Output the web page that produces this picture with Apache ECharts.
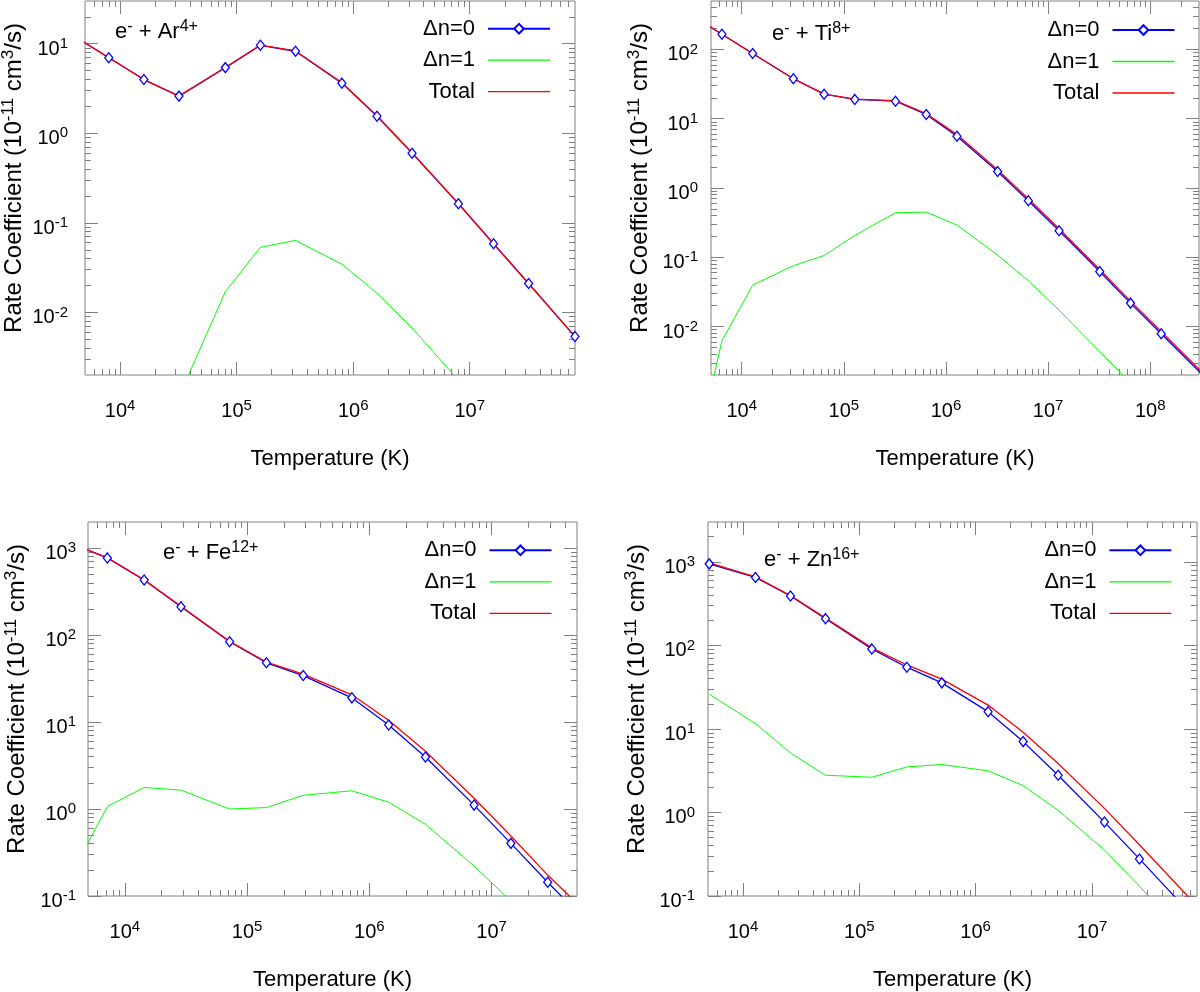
<!DOCTYPE html>
<html>
<head>
<meta charset="utf-8">
<script src="https://cdn.jsdelivr.net/npm/echarts@6/dist/echarts.min.js"></script>
<style>
html, body { margin: 0; padding: 0; background: #fff; }
#chart { width: 1200px; height: 992px; }
</style>
</head>
<body>
<div id="chart"></div>
<script>
// e- + Ar4+  (temperatures in K, rate coefficients in 1e-11 cm^3/s)
var arTemp = [3.2e3, 8e3, 1.6e4, 3.2e4, 8e4, 1.6e5, 3.2e5, 8e5, 1.6e6, 3.2e6, 8e6, 1.6e7, 3.2e7, 8e7];
var arDn0 = [14.7, 6.98, 3.98, 2.6, 5.41, 9.6, 8.24, 3.63, 1.55, 0.60, 0.163, 0.0584, 0.021, 0.00537];
var arTotal = [14.7, 6.99, 3.98, 2.6, 5.43, 9.65, 8.3, 3.66, 1.57, 0.607, 0.165, 0.0584, 0.021, 0.00537];
var arTempDn1 = [3.2e4, 8e4, 1.6e5, 3.2e5, 8e5, 1.6e6, 3.2e6, 8e6];
var arDn1 = [0.00115, 0.017, 0.0533, 0.0637, 0.0345, 0.0164, 0.0067, 0.00175];

// e- + Ti8+
var tiTemp = [3.2e3, 6.4e3, 1.28e4, 3.2e4, 6.4e4, 1.28e5, 3.2e5, 6.4e5, 1.28e6, 3.2e6, 6.4e6, 1.28e7, 3.2e7, 6.4e7, 1.28e8, 3.2e8];
var tiDn0 = [315, 166, 87.5, 37.7, 22.6, 19.0, 17.9, 11.5, 5.6, 1.73, 0.653, 0.241, 0.0625, 0.0218, 0.00787, 0.00205];
var tiTotal = [315, 166, 87.5, 37.8, 22.7, 19.2, 18.3, 11.9, 5.9, 1.84, 0.70, 0.258, 0.0668, 0.0233, 0.0085, 0.0022];
var tiTempDn1 = [3.2e3, 6.4e3, 1.28e4, 3.2e4, 6.4e4, 1.28e5, 3.2e5, 6.4e5, 1.28e6, 3.2e6, 6.4e6, 1.28e7, 3.2e7, 6.4e7];
var tiDn1 = [0.00007, 0.00624, 0.0397, 0.0755, 0.106, 0.207, 0.439, 0.449, 0.292, 0.108, 0.0458, 0.0173, 0.00435, 0.00155];

// e- + Fe12+
var feTemp = [2.88e3, 7.2e3, 1.44e4, 2.88e4, 7.2e4, 1.44e5, 2.88e5, 7.2e5, 1.44e6, 2.88e6, 7.2e6, 1.44e7, 2.88e7, 7.2e7];
var feDn0 = [1290, 773, 430, 212, 83.9, 48.1, 34.3, 19.0, 9.27, 3.96, 1.11, 0.403, 0.144, 0.0386];
var feTotal = [1290, 774, 432, 214, 84.9, 49.1, 35.7, 20.6, 10.5, 4.63, 1.33, 0.49, 0.174, 0.05];
var feTempDn1 = [2.88e3, 7.2e3, 1.44e4, 2.88e4, 7.2e4, 1.44e5, 2.88e5, 7.2e5, 1.44e6, 2.88e6, 7.2e6, 1.44e7];
var feDn1 = [0.096, 1.07, 1.77, 1.65, 1.0, 1.04, 1.44, 1.62, 1.2, 0.668, 0.221, 0.0875];

// e- + Zn16+
var znTemp = [5.12e3, 1.28e4, 2.56e4, 5.12e4, 1.28e5, 2.56e5, 5.12e5, 1.28e6, 2.56e6, 5.12e6, 1.28e7, 2.56e7, 5.12e7, 1.28e8];
var znDn0 = [946, 650, 390, 209, 90.8, 54.8, 35.6, 16.1, 7.05, 2.79, 0.767, 0.278, 0.099, 0.0252];
var znTotal = [972, 662, 395, 212, 93.4, 58.3, 39.4, 19.3, 9.15, 3.85, 1.12, 0.41, 0.147, 0.038];
var znTempDn1 = [5.12e3, 1.28e4, 2.56e4, 5.12e4, 1.28e5, 2.56e5, 5.12e5, 1.28e6, 2.56e6, 5.12e6, 1.28e7, 2.56e7, 5.12e7];
var znDn1 = [26.1, 11.6, 5.16, 2.79, 2.64, 3.51, 3.75, 3.15, 2.1, 1.06, 0.356, 0.131, 0.048];

var panels = [
    { ion: 'Ar', charge: '4+', xRange: [5e3, 8e7], yRange: [2e-3, 30],
      temp: arTemp, dn0: arDn0, total: arTotal, temp1: arTempDn1, dn1: arDn1 },
    { ion: 'Ti', charge: '8+', xRange: [5e3, 3e8], yRange: [2e-3, 500],
      temp: tiTemp, dn0: tiDn0, total: tiTotal, temp1: tiTempDn1, dn1: tiDn1 },
    { ion: 'Fe', charge: '12+', xRange: [5e3, 5e7], yRange: [0.1, 2000],
      temp: feTemp, dn0: feDn0, total: feTotal, temp1: feTempDn1, dn1: feDn1 },
    { ion: 'Zn', charge: '16+', xRange: [5e3, 8e7], yRange: [0.1, 3000],
      temp: znTemp, dn0: znDn0, total: znTotal, temp1: znTempDn1, dn1: znDn1 }
];

// where each panel sits on the page
var layout = [
    { grid: { left: 85, top: 1, width: 490, height: 374 }, yLabelMargin: 17, title: [115, 19], legend: [649, 17.7] },
    { grid: { left: 711, top: 1, width: 488, height: 374 }, yLabelMargin: 13, title: [772, 21], legend: [24.5, 19] },
    { grid: { left: 88, top: 522, width: 489, height: 374 }, yLabelMargin: 12, title: [163, 540], legend: [647.5, 539.3] },
    { grid: { left: 708, top: 522, width: 489, height: 374 }, yLabelMargin: 13, title: [764, 547], legend: [27.6, 539.3] }
];

var BLUE = '#0000ff', GREEN = '#00ff00', RED = '#ff0000', GRAY = '#808080';
var FONT = 'Liberation Sans, Arial, sans-serif';
var MAJOR_LEN = 13, MINOR_LEN = 6;
var LINE_ICON = 'path://M0,0H62V1.3H0Z';

var LABEL_RICH = {
    b: { fontSize: 20, lineHeight: 26, fontFamily: FONT, color: '#000' },
    s: { fontSize: 15, lineHeight: 15, verticalAlign: 'top', fontFamily: FONT, color: '#000' }
};
var NAME_RICH = {
    b: { fontSize: 24, lineHeight: 28, fontFamily: FONT, color: '#000' },
    s: { fontSize: 17, lineHeight: 17, verticalAlign: 'top', fontFamily: FONT, color: '#000' }
};
var TITLE_RICH = {
    b: { fontSize: 22, lineHeight: 26, fontFamily: FONT, color: '#000', fontWeight: 'normal' },
    s: { fontSize: 16, lineHeight: 16, verticalAlign: 'top', fontFamily: FONT, color: '#000', fontWeight: 'normal' }
};

function lg(v) { return Math.log10(v); }

function majors(r) {
    var lo = lg(r[0]), hi = lg(r[1]), out = [];
    for (var n = Math.ceil(lo - 1e-9); n <= Math.floor(hi + 1e-9); n++) {
        out.push(Math.min(Math.max(n, lo), hi));
    }
    return out;
}

function minors(r) {
    var lo = lg(r[0]), hi = lg(r[1]), out = [];
    for (var n = Math.floor(lo); n <= Math.ceil(hi); n++) {
        for (var k = 2; k <= 9; k++) {
            var v = n + lg(k);
            if (v > lo + 1e-6 && v < hi - 1e-6) out.push(v);
        }
    }
    return out;
}

function powLabel(v) {
    return '{b|10}{s|' + Math.round(v) + '}';
}

function pairs(T, V) {
    return T.map(function (t, i) { return [t, V[i]]; });
}

// value axis in log10 space, used only to draw ticks / labels
function tickAxis(gi, range, pos, len, values, extra) {
    var ax = {
        type: 'value', gridIndex: gi, position: pos,
        min: lg(range[0]), max: lg(range[1]),
        silent: true,
        axisLine: { show: false, onZero: false },
        splitLine: { show: false },
        axisTick: { show: true, inside: true, length: len, customValues: values,
                    lineStyle: { color: GRAY, width: 1 } },
        axisLabel: { show: false }
    };
    return Object.assign(ax, extra || {});
}

var grids = [], xAxes = [], yAxes = [], series = [], titles = [], legends = [];

panels.forEach(function (p, gi) {
    var L = layout[gi];
    grids.push(Object.assign({ show: true, borderColor: GRAY, borderWidth: 1,
        backgroundColor: 'transparent', containLabel: false, outerBoundsMode: 'none' }, L.grid));

    var xi = xAxes.length, yi = yAxes.length;
    xAxes.push({ type: 'log', logBase: 10, gridIndex: gi, min: p.xRange[0], max: p.xRange[1], show: false,
                 axisLine: { onZero: false } });
    yAxes.push({ type: 'log', logBase: 10, gridIndex: gi, min: p.yRange[0], max: p.yRange[1], show: false,
                 axisLine: { onZero: false } });

    var xMaj = majors(p.xRange), xMin = minors(p.xRange);
    var yMaj = majors(p.yRange), yMin = minors(p.yRange);

    xAxes.push(tickAxis(gi, p.xRange, 'bottom', MAJOR_LEN, xMaj, {
        name: 'Temperature (K)', nameLocation: 'middle', nameGap: 73, nameMoveOverlap: false,
        nameTextStyle: { fontSize: 22, fontFamily: FONT, color: '#000' },
        axisLabel: { show: true, customValues: xMaj, formatter: powLabel, margin: 23.5, rich: LABEL_RICH }
    }));
    xAxes.push(tickAxis(gi, p.xRange, 'bottom', MINOR_LEN, xMin));
    xAxes.push(tickAxis(gi, p.xRange, 'top', MAJOR_LEN, xMaj));
    xAxes.push(tickAxis(gi, p.xRange, 'top', MINOR_LEN, xMin));

    yAxes.push(tickAxis(gi, p.yRange, 'left', MAJOR_LEN, yMaj, {
        name: '{b|Rate Coefficient (10}{s|-11}{b| cm}{s|3}{b|/s)}',
        nameLocation: 'middle', nameGap: 57, nameMoveOverlap: false,
        nameTextStyle: { rich: NAME_RICH, padding: [0, 0, 0, 20] },
        axisLabel: { show: true, customValues: yMaj, formatter: powLabel, margin: L.yLabelMargin,
                     padding: [11, 0, 0, 0], rich: LABEL_RICH }
    }));
    yAxes.push(tickAxis(gi, p.yRange, 'left', MINOR_LEN, yMin));
    yAxes.push(tickAxis(gi, p.yRange, 'right', MAJOR_LEN, yMaj));
    yAxes.push(tickAxis(gi, p.yRange, 'right', MINOR_LEN, yMin));

    series.push({
        type: 'line', name: 'Δn=0', xAxisIndex: xi, yAxisIndex: yi,
        data: pairs(p.temp, p.dn0),
        symbol: 'emptyDiamond', symbolSize: 9, showSymbol: false,
        lineStyle: { color: BLUE, width: 1.3 }, itemStyle: { color: BLUE }, z: 2
    });
    series.push({
        type: 'line', name: 'Δn=1', xAxisIndex: xi, yAxisIndex: yi,
        data: pairs(p.temp1, p.dn1),
        symbol: 'none',
        lineStyle: { color: GREEN, width: 1 }, itemStyle: { color: GREEN }, z: 2
    });
    series.push({
        type: 'line', name: 'Total', xAxisIndex: xi, yAxisIndex: yi,
        data: pairs(p.temp, p.total),
        symbol: 'none',
        lineStyle: { color: RED, width: 1.3 }, itemStyle: { color: RED }, z: 3
    });
    // open diamonds on top of both lines
    series.push({
        type: 'scatter', name: 'Δn=0 points', xAxisIndex: xi, yAxisIndex: yi,
        data: pairs(p.temp, p.dn0), clip: true, silent: true,
        symbol: 'diamond', symbolSize: [8, 10],
        itemStyle: { color: '#fff', borderColor: BLUE, borderWidth: 1.3, opacity: 1 }, z: 4
    });

    titles.push({
        text: '{b|e}{s|-}{b| + ' + p.ion + '}{s|' + p.charge + '}',
        left: L.title[0], top: L.title[1], padding: 0,
        textStyle: { rich: TITLE_RICH, fontWeight: 'normal' }
    });

    legends.push({
        orient: 'vertical', align: 'right', right: L.legend[0], top: L.legend[1],
        padding: 0, itemWidth: 62, itemHeight: 12, itemGap: 9.5, selectedMode: false,
        textStyle: { fontSize: 22, fontFamily: FONT, color: '#000', lineHeight: 22, padding: [0, 8, 0, 0] },
        data: [{ name: 'Δn=0' }, { name: 'Δn=1', icon: LINE_ICON }, { name: 'Total', icon: LINE_ICON }]
    });
});

var myChart = echarts.init(document.getElementById('chart'), null, { renderer: 'canvas' });
myChart.setOption({
    animation: false,
    backgroundColor: '#fff',
    textStyle: { fontFamily: FONT },
    title: titles,
    legend: legends,
    grid: grids,
    xAxis: xAxes,
    yAxis: yAxes,
    series: series
});
</script>
</body>
</html>
